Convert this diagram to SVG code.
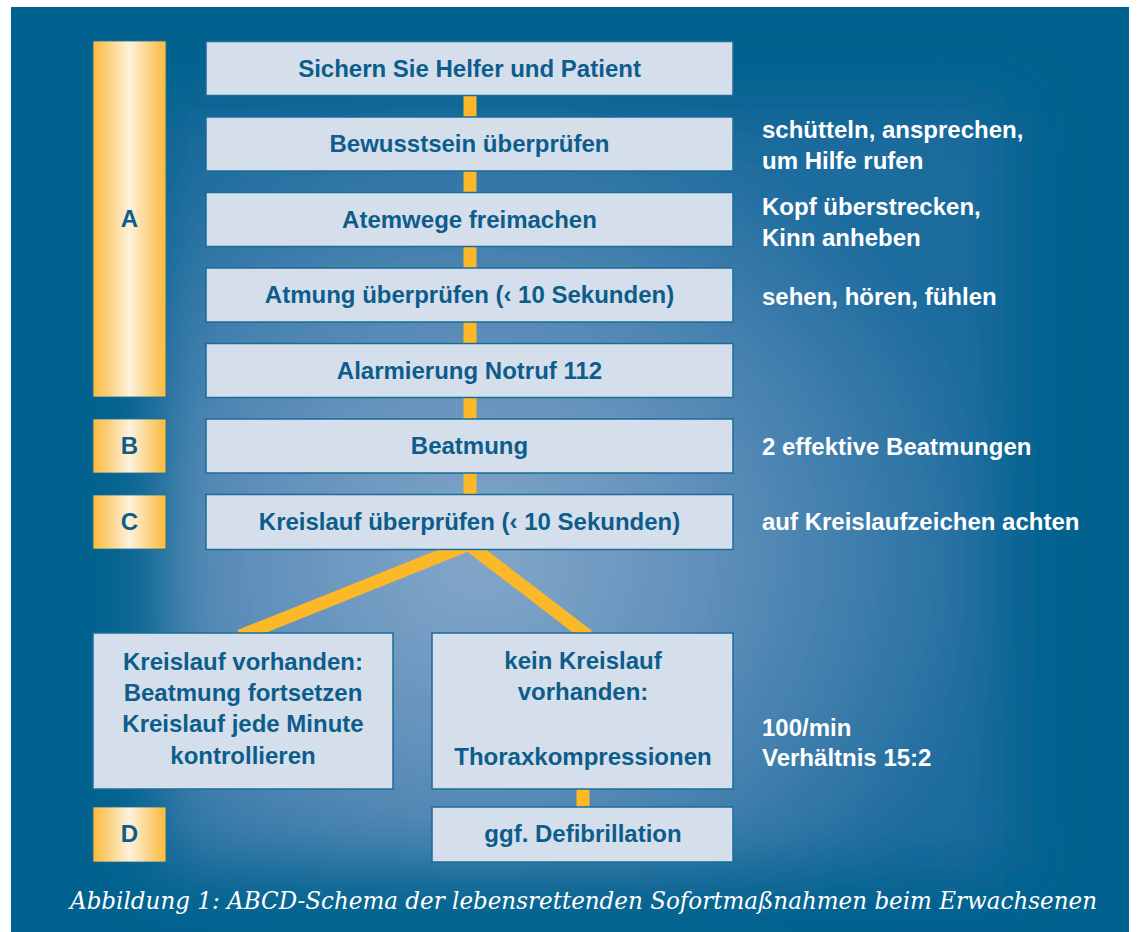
<svg xmlns="http://www.w3.org/2000/svg" width="1138" height="932" viewBox="0 0 1138 932">
<defs>
<style>
.box{fill:#d5dfeb;stroke:#1d6b9a;stroke-width:1.5}
.bt{font-family:"Liberation Sans",Arial,sans-serif;font-weight:bold;font-size:24px;fill:#0d5d8c;text-anchor:middle}
.rt{font-family:"Liberation Sans",Arial,sans-serif;font-weight:bold;font-size:24px;fill:#ffffff}
.bar{fill:url(#yg);stroke:#1d6b9a;stroke-width:0.8}
.lt{font-family:"Liberation Sans",Arial,sans-serif;font-weight:bold;font-size:24px;fill:#0d5d8c;text-anchor:middle}
.con{stroke:#fbb829;stroke-width:13;fill:none}
.cap{font-family:"DejaVu Serif","Liberation Serif",serif;font-style:italic;font-size:25px;fill:#ffffff}
</style>
<linearGradient id="yg" x1="0" y1="0" x2="1" y2="0">
<stop offset="0" stop-color="#fbba3a"/>
<stop offset="0.5" stop-color="#fdf1dc"/>
<stop offset="1" stop-color="#fbba3a"/>
</linearGradient>
<radialGradient id="glow" cx="480" cy="560" r="520" gradientUnits="userSpaceOnUse" gradientTransform="translate(480 560) scale(1 0.9) translate(-480 -560)">
<stop offset="0" stop-color="#86a8ca"/>
<stop offset="0.45" stop-color="#5f8fba"/>
<stop offset="1" stop-color="#1d6c9e"/>
</radialGradient>
<filter id="blur" x="-20%" y="-20%" width="140%" height="140%">
<feGaussianBlur stdDeviation="30"/>
</filter>
<clipPath id="bgclip"><rect x="11" y="7" width="1118" height="925"/></clipPath>
</defs>
<rect width="1138" height="932" fill="#ffffff"/>
<g id="background" clip-path="url(#bgclip)">
<rect x="11" y="7" width="1118" height="925" fill="#02628f"/>
<rect x="160" y="110" width="845" height="760" fill="url(#glow)" filter="url(#blur)"/>
</g>
<g id="connectors">
<line class="con" x1="470" y1="95" x2="470" y2="118"/>
<line class="con" x1="470" y1="171" x2="470" y2="193"/>
<line class="con" x1="470" y1="246" x2="470" y2="269"/>
<line class="con" x1="470" y1="322" x2="470" y2="344"/>
<line class="con" x1="470" y1="397" x2="470" y2="420"/>
<line class="con" x1="470" y1="473" x2="470" y2="495"/>
<line class="con" x1="470" y1="544" x2="240" y2="636"/>
<line class="con" x1="468" y1="544" x2="588" y2="636"/>
<line class="con" x1="583" y1="788" x2="583" y2="808"/>
</g>
<g id="bar-A"><rect class="bar" x="93" y="41" width="73" height="356"/><text class="lt" x="129.5" y="227">A</text></g>
<g id="bar-B"><rect class="bar" x="93" y="419" width="73" height="54"/><text class="lt" x="129.5" y="454">B</text></g>
<g id="bar-C"><rect class="bar" x="93" y="495" width="73" height="54"/><text class="lt" x="129.5" y="530">C</text></g>
<g id="bar-D"><rect class="bar" x="93" y="807" width="73" height="55"/><text class="lt" x="129.5" y="842">D</text></g>
<g id="n1"><rect class="box" x="206" y="41.5" width="527" height="54"/><text class="bt" x="469.5" y="77">Sichern Sie Helfer und Patient</text></g>
<g id="n2"><rect class="box" x="206" y="117" width="527" height="54"/><text class="bt" x="469.5" y="152">Bewusstsein überprüfen</text></g>
<g id="n3"><rect class="box" x="206" y="192.5" width="527" height="54"/><text class="bt" x="469.5" y="228">Atemwege freimachen</text></g>
<g id="n4"><rect class="box" x="206" y="268" width="527" height="54"/><text class="bt" x="469.5" y="303">Atmung überprüfen (‹ 10 Sekunden)</text></g>
<g id="n5"><rect class="box" x="206" y="343.5" width="527" height="54"/><text class="bt" x="469.5" y="379">Alarmierung Notruf 112</text></g>
<g id="n6"><rect class="box" x="206" y="419" width="527" height="54"/><text class="bt" x="469.5" y="454">Beatmung</text></g>
<g id="n7"><rect class="box" x="206" y="494.5" width="527" height="55"/><text class="bt" x="469.5" y="530">Kreislauf überprüfen (‹ 10 Sekunden)</text></g>
<g id="n8"><rect class="box" x="93" y="633" width="300" height="156"/>
<text class="bt" x="243" y="670">Kreislauf vorhanden:</text>
<text class="bt" x="243" y="701">Beatmung fortsetzen</text>
<text class="bt" x="243" y="732">Kreislauf jede Minute</text>
<text class="bt" x="243" y="764">kontrollieren</text></g>
<g id="n9"><rect class="box" x="432" y="633" width="301" height="156"/>
<text class="bt" x="583" y="669">kein Kreislauf</text>
<text class="bt" x="583" y="700">vorhanden:</text>
<text class="bt" x="583" y="765">Thoraxkompressionen</text></g>
<g id="n10"><rect class="box" x="432" y="807" width="301" height="55"/><text class="bt" x="583" y="842">ggf. Defibrillation</text></g>
<g id="notes">
<text class="rt" x="762" y="138">schütteln, ansprechen,</text>
<text class="rt" x="762" y="169">um Hilfe rufen</text>
<text class="rt" x="762" y="215">Kopf überstrecken,</text>
<text class="rt" x="762" y="246">Kinn anheben</text>
<text class="rt" x="762" y="305">sehen, hören, fühlen</text>
<text class="rt" x="762" y="455">2 effektive Beatmungen</text>
<text class="rt" x="762" y="530">auf Kreislaufzeichen achten</text>
<text class="rt" x="762" y="736">100/min</text>
<text class="rt" x="762" y="766">Verhältnis 15:2</text>
</g>
<text class="cap" x="70" y="909" textLength="1027" lengthAdjust="spacingAndGlyphs">Abbildung 1: ABCD-Schema der lebensrettenden Sofortmaßnahmen beim Erwachsenen</text>
</svg>
